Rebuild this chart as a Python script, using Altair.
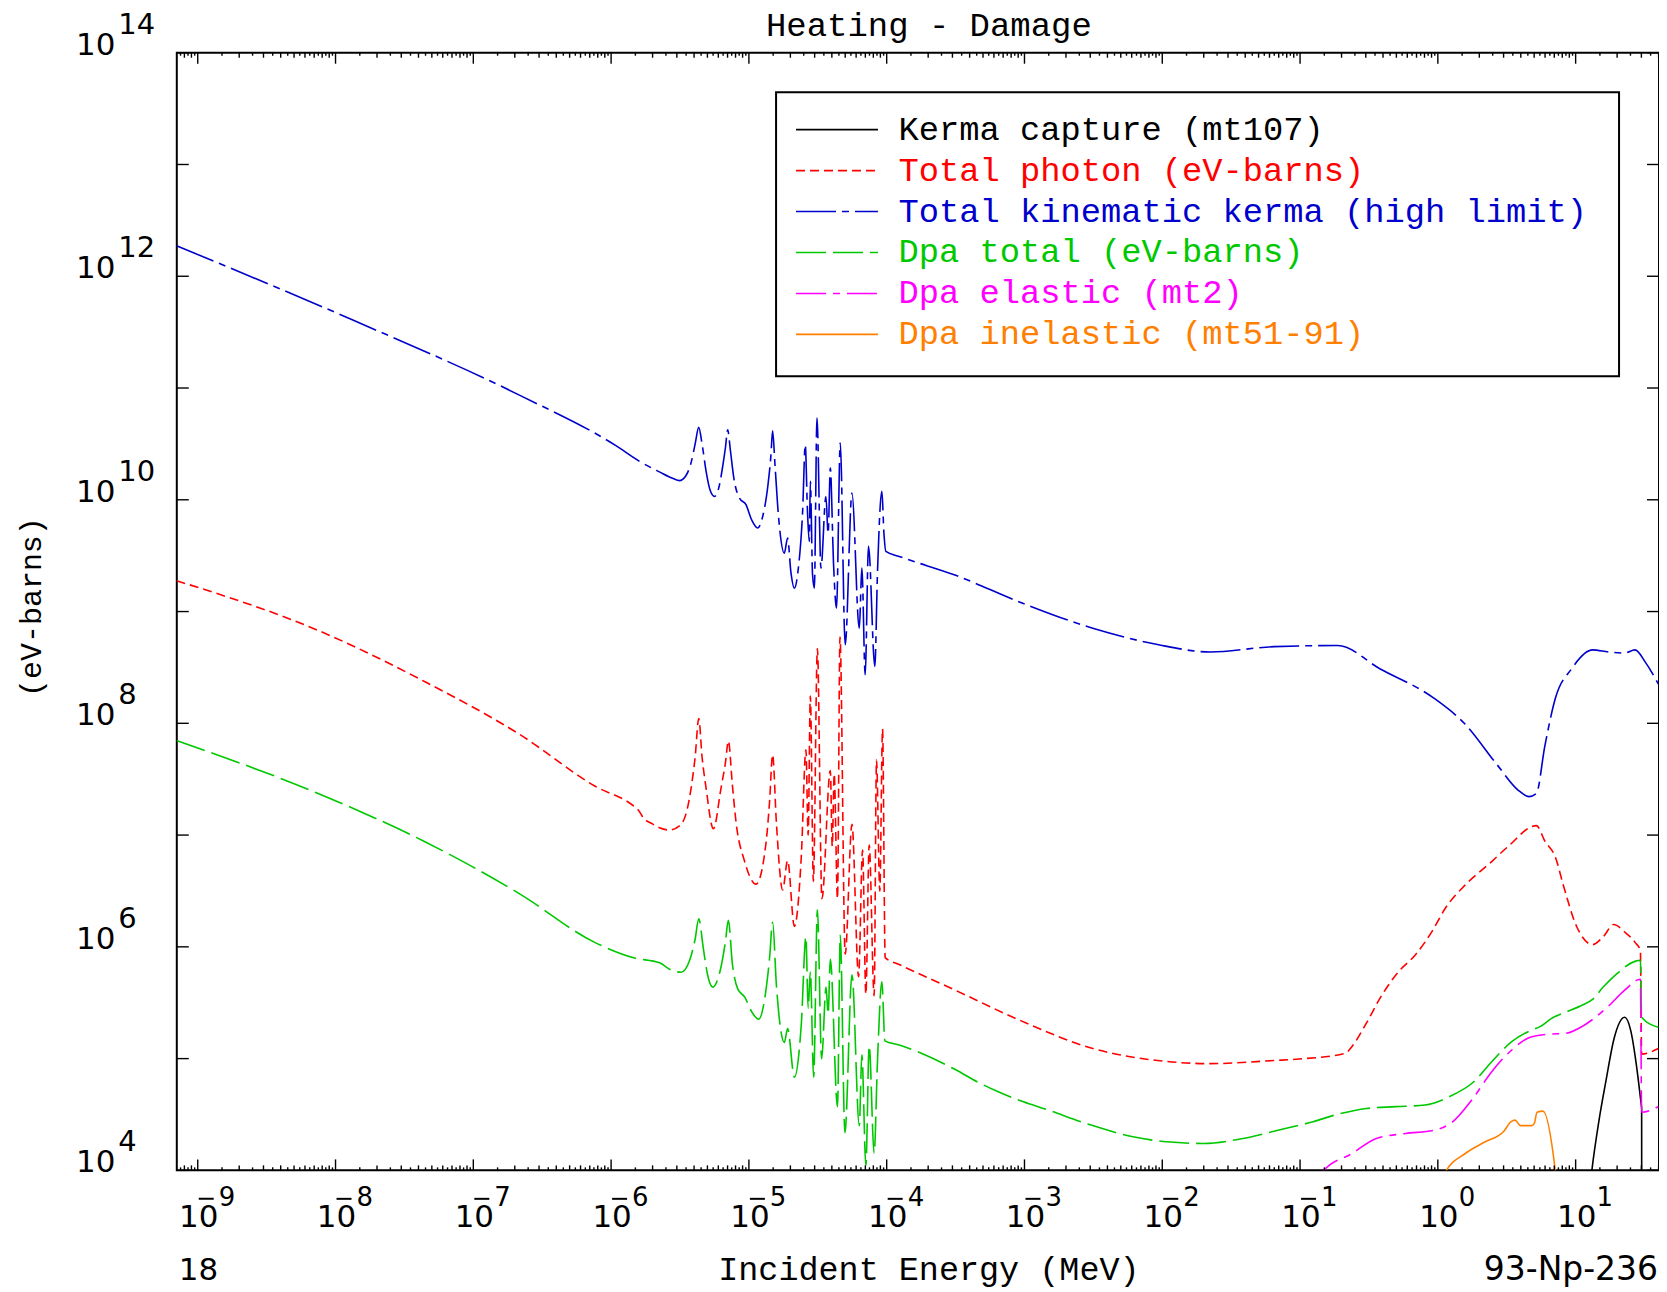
import altair as alt
import pandas as pd

# ---------------- data: (log10 Energy [MeV], log10 value [eV-barns]) ----------------
kerma_capture = [
    (1.10, 3.8), (1.116, 3.98), (1.17, 4.45), (1.22, 4.80), (1.279, 5.18), (1.356, 5.37),
    (1.40, 5.25), (1.44, 4.95), (1.47, 4.65), (1.479, 4.55), (1.4795, 3.8),
]

total_photon = [
    (-9.154, 9.276), (-8.122, 8.829), (-7.351, 8.372), (-6.658, 7.896), (-6.119, 7.439),
    (-5.826, 7.249), (-5.80, 7.22), (-5.77, 7.16), (-5.70, 7.10), (-5.649, 7.066),
    (-5.576, 7.045), (-5.504, 7.082), (-5.45, 7.22), (-5.419, 7.423), (-5.39, 7.70),
    (-5.364, 8.043), (-5.34, 7.70), (-5.311, 7.423), (-5.258, 7.057), (-5.202, 7.423),
    (-5.17, 7.65), (-5.149, 7.842), (-5.12, 7.45), (-5.093, 7.113), (-5.033, 6.772),
    (-4.948, 6.561), (-4.876, 6.927), (-4.85, 7.30), (-4.828, 7.718), (-4.80, 7.10),
    (-4.755, 6.508), (-4.719, 6.772), (-4.670, 6.183), (-4.62, 6.80), (-4.586, 7.764),
    (-4.57, 7.0), (-4.554, 8.245), (-4.532, 6.586), (-4.503, 8.670), (-4.470, 6.431),
    (-4.409, 7.578), (-4.395, 6.9), (-4.381, 7.547), (-4.357, 6.431), (-4.339, 8.772),
    (-4.301, 5.935), (-4.252, 7.097), (-4.204, 5.733), (-4.175, 6.865), (-4.151, 5.578),
    (-4.127, 6.911), (-4.091, 5.563), (-4.074, 7.671), (-4.05, 6.5), (-4.030, 7.950),
    (-4.011, 5.904), (-3.909, 5.842), (-3.499, 5.61), (-3.037, 5.345), (-2.498, 5.088),
    (-2.035, 4.983), (-1.650, 4.955), (-1.188, 4.983), (-1.010, 4.996), (-0.671, 5.047),
    (-0.624, 5.107), (-0.526, 5.301), (-0.406, 5.569), (-0.285, 5.778), (-0.164, 5.927),
    (-0.043, 6.136), (0.054, 6.345), (0.199, 6.554), (0.391, 6.763), (0.507, 6.895),
    (0.715, 7.085), (0.777, 6.945), (0.854, 6.80), (0.908, 6.563), (1.008, 6.18),
    (1.123, 6.02), (1.200, 6.09), (1.277, 6.20), (1.354, 6.135), (1.431, 6.04),
    (1.470, 5.965), (1.479, 5.04), (1.600, 5.09),
]

total_kinematic_kerma = [
    (-9.154, 12.273), (-7.891, 11.617), (-6.658, 10.932), (-5.965, 10.484), (-5.794, 10.344),
    (-5.65, 10.25), (-5.55, 10.19), (-5.504, 10.171), (-5.46, 10.21), (-5.42, 10.33),
    (-5.39, 10.50), (-5.364, 10.648), (-5.34, 10.50), (-5.31, 10.25), (-5.28, 10.08),
    (-5.25, 10.030), (-5.22, 10.10), (-5.19, 10.30), (-5.17, 10.47), (-5.154, 10.627),
    (-5.135, 10.45), (-5.11, 10.20), (-5.069, 10.015), (-5.021, 9.956), (-4.98, 9.82),
    (-4.936, 9.747), (-4.90, 9.85), (-4.86, 10.15), (-4.84, 10.40), (-4.828, 10.618),
    (-4.81, 10.30), (-4.785, 9.85), (-4.743, 9.523), (-4.719, 9.657), (-4.695, 9.35),
    (-4.670, 9.209), (-4.64, 9.40), (-4.61, 9.90), (-4.591, 10.493), (-4.575, 9.9),
    (-4.562, 9.628), (-4.554, 10.165), (-4.538, 9.329), (-4.525, 9.209), (-4.506, 10.731),
    (-4.477, 9.389), (-4.441, 10.030), (-4.425, 9.70), (-4.409, 10.284), (-4.386, 9.433),
    (-4.364, 9.030), (-4.337, 10.508), (-4.301, 8.703), (-4.252, 10.060), (-4.199, 8.851),
    (-4.180, 9.389), (-4.156, 8.434), (-4.132, 9.583), (-4.086, 8.509), (-4.067, 9.344),
    (-4.035, 10.075), (-4.020, 9.70), (-4.006, 9.538), (-3.909, 9.493), (-3.499, 9.324),
    (-3.037, 9.086), (-2.498, 8.848), (-2.035, 8.705), (-1.650, 8.638), (-1.188, 8.686),
    (-0.726, 8.696), (-0.418, 8.486), (-0.032, 8.228), (0.199, 7.991), (0.430, 7.629),
    (0.584, 7.401), (0.661, 7.344), (0.715, 7.372), (0.777, 7.800), (0.854, 8.228),
    (0.969, 8.485), (1.123, 8.657), (1.239, 8.638), (1.354, 8.629), (1.431, 8.657),
    (1.508, 8.543), (1.600, 8.352),
]

dpa_total = [
    (-9.154, 7.847), (-8.122, 7.37), (-7.351, 6.94), (-6.658, 6.47), (-6.119, 6.04),
    (-5.83, 5.90), (-5.649, 5.857), (-5.56, 5.79), (-5.492, 5.773), (-5.43, 5.88),
    (-5.39, 6.07), (-5.364, 6.251), (-5.33, 5.98), (-5.30, 5.75), (-5.263, 5.640),
    (-5.21, 5.78), (-5.17, 6.05), (-5.149, 6.238), (-5.12, 5.85), (-5.081, 5.624),
    (-5.03, 5.55), (-4.98, 5.42), (-4.929, 5.352), (-4.88, 5.58), (-4.85, 5.90),
    (-4.828, 6.220), (-4.80, 5.65), (-4.743, 5.144), (-4.719, 5.268), (-4.670, 4.834),
    (-4.62, 5.30), (-4.586, 6.090), (-4.57, 5.45), (-4.554, 5.780), (-4.530, 4.834),
    (-4.503, 6.331), (-4.472, 4.998), (-4.440, 5.640), (-4.425, 5.40), (-4.409, 5.888),
    (-4.357, 4.570), (-4.337, 6.105), (-4.303, 4.338), (-4.252, 5.749), (-4.199, 4.400),
    (-4.180, 5.035), (-4.151, 4.043), (-4.127, 5.113), (-4.091, 4.152), (-4.067, 4.973),
    (-4.035, 5.687), (-4.013, 5.159), (-3.909, 5.122), (-3.499, 4.90), (-3.344, 4.793),
    (-3.203, 4.710), (-3.008, 4.614), (-2.849, 4.549), (-2.531, 4.411), (-2.213, 4.301),
    (-1.967, 4.256), (-1.701, 4.241), (-1.436, 4.280), (-1.153, 4.361), (-0.906, 4.435),
    (-0.729, 4.501), (-0.517, 4.554), (-0.305, 4.570), (-0.092, 4.585), (0.085, 4.660),
    (0.261, 4.793), (0.391, 4.972), (0.536, 5.151), (0.681, 5.256), (0.742, 5.286),
    (0.826, 5.360), (0.925, 5.414), (1.05, 5.48), (1.123, 5.53), (1.200, 5.64),
    (1.300, 5.76), (1.430, 5.87), (1.470, 5.88), (1.479, 5.37), (1.600, 5.28),
]

dpa_elastic = [
    (-0.87, 3.9), (-0.835, 3.99), (-0.623, 4.151), (-0.446, 4.286), (-0.234, 4.330),
    (-0.022, 4.361), (0.114, 4.441), (0.246, 4.629), (0.391, 4.883), (0.536, 5.077),
    (0.681, 5.196), (0.826, 5.220), (0.925, 5.226), (1.05, 5.29), (1.123, 5.35),
    (1.239, 5.47), (1.354, 5.61), (1.470, 5.71), (1.479, 4.52), (1.600, 4.57),
]

dpa_inelastic = [
    (0.0, 3.8), (0.053, 3.98), (0.199, 4.151), (0.344, 4.256), (0.476, 4.346),
    (0.532, 4.436), (0.56, 4.45), (0.60, 4.40), (0.68, 4.40), (0.70, 4.42),
    (0.72, 4.52), (0.763, 4.53), (0.854, 3.98), (0.87, 3.8),
]

series_names = [
    "Kerma capture (mt107)",
    "Total photon (eV-barns)",
    "Total kinematic kerma (high limit)",
    "Dpa total (eV-barns)",
    "Dpa elastic (mt2)",
    "Dpa inelastic (mt51-91)",
]
series_data = [kerma_capture, total_photon, total_kinematic_kerma, dpa_total, dpa_elastic, dpa_inelastic]
series_colors = ["#000000", "#ff0000", "#0000cc", "#00c800", "#ff00ff", "#ff8000"]
series_dashes = [None, [9, 5], [40, 6, 7, 6], [30, 7], [30, 7, 7, 7], None]

x_decades = list(range(-9, 2))
y_decades = list(range(4, 15))
y_label_decades = [4, 6, 8, 10, 12, 14]

title_text = "Heating - Damage"
x_title = "Incident Energy (MeV)"
y_title = "(eV-barns)"
left_note = "18"
right_note = "93-Np-236"

# ---------------- layout ----------------
W, H = 1484, 1119
X_LO, X_HI = 10 ** -9.152, 10 ** 1.605
xscale = alt.Scale(type="log", domain=[X_LO, X_HI], nice=False)
yscale = alt.Scale(type="log", domain=[1e4, 1e14], nice=False)


def X(f):
    return alt.X(f, type="quantitative", scale=xscale, axis=None)


def Y(f):
    return alt.Y(f, type="quantitative", scale=yscale, axis=None)


NUMFONT = "DejaVu Sans"
MONO = "Liberation Mono"
dummy = pd.DataFrame({"a": [0]})

layers = []

# data curves
for name, pts, color, dash in zip(series_names, series_data, series_colors, series_dashes):
    df = pd.DataFrame({
        "E": [10 ** p[0] for p in pts],
        "V": [10 ** p[1] for p in pts],
        "o": list(range(len(pts))),
    })
    kw = dict(color=color, strokeWidth=1.6, clip=True, interpolate="monotone")
    if dash:
        kw["strokeDash"] = dash
    layers.append(alt.Chart(df).mark_line(**kw).encode(x=X("E"), y=Y("V"), order="o:Q"))

# tick values
major_x = [10.0 ** k for k in x_decades]
minor_int = [m * 10.0 ** k for k in range(-10, 2) for m in range(2, 10)]
minor_int = [v for v in minor_int if X_LO <= v <= X_HI]
minor_half = [(m + 0.5) * 10.0 ** k for k in range(-10, 2) for m in range(1, 10)]
minor_half = [v for v in minor_half if X_LO <= v <= X_HI]

for vals, L in [(major_x, 11), (minor_int, 5), (minor_half, 3)]:
    tdf = pd.DataFrame({"t": vals})
    layers.append(alt.Chart(tdf).mark_rule(color="black", strokeWidth=1.4).encode(
        x=X("t"), y=alt.value(H), y2=alt.value(H - L)))
    layers.append(alt.Chart(tdf).mark_rule(color="black", strokeWidth=1.4).encode(
        x=X("t"), y=alt.value(0), y2=alt.value(L)))

ydf = pd.DataFrame({"t": [10.0 ** k for k in y_decades]})
layers.append(alt.Chart(ydf).mark_rule(color="black", strokeWidth=1.4).encode(
    y=Y("t"), x=alt.value(0), x2=alt.value(12)))
layers.append(alt.Chart(ydf).mark_rule(color="black", strokeWidth=1.4).encode(
    y=Y("t"), x=alt.value(W), x2=alt.value(W - 12)))

# x tick labels
xl = pd.DataFrame({
    "t": [10.0 ** k for k in x_decades],
    "base": ["10"] * len(x_decades),
    "exp": [str(abs(k)) for k in x_decades],
    "neg": [k < 0 for k in x_decades],
})
layers.append(alt.Chart(xl).mark_text(align="center", baseline="alphabetic", font=NUMFONT,
                                      fontSize=31, dx=1, color="black").encode(
    x=X("t"), y=alt.value(H + 57), text="base:N"))
layers.append(alt.Chart(xl).mark_text(align="left", baseline="alphabetic", font=NUMFONT,
                                      fontSize=26, dx=21, color="black").encode(
    x=X("t"), y=alt.value(H + 36), text="exp:N"))
# minus sign of the negative exponents, drawn as a short bar above the "0"
layers.append(alt.Chart(xl).transform_filter("datum.neg").mark_tick(
    orient="horizontal", size=15, thickness=2, color="black", xOffset=8.5, opacity=1).encode(
    x=X("t"), y=alt.value(H + 28.5)))

# y tick labels
yl = pd.DataFrame({
    "t": [10.0 ** k for k in y_label_decades],
    "base": ["10"] * len(y_label_decades),
    "exp": [str(k) for k in y_label_decades],
})
layers.append(alt.Chart(yl).mark_text(align="right", baseline="alphabetic", font=NUMFONT,
                                      fontSize=31, dy=2, color="black").encode(
    y=Y("t"), x=alt.value(-61.5), text="base:N"))
layers.append(alt.Chart(yl).mark_text(align="left", baseline="alphabetic", font=NUMFONT,
                                      fontSize=29, dy=-19, color="black").encode(
    y=Y("t"), x=alt.value(-58.5), text="exp:N"))

# legend box
layers.append(alt.Chart(dummy).mark_rect(fill="white", stroke="black", strokeWidth=2).encode(
    x=alt.value(600), x2=alt.value(1444), y=alt.value(39.5), y2=alt.value(324)))
for i, (name, color, dash) in enumerate(zip(series_names, series_colors, series_dashes)):
    yy = 77 + 41 * i
    kw = dict(color=color, strokeWidth=1.6)
    if dash:
        kw["strokeDash"] = dash
    layers.append(alt.Chart(dummy).mark_rule(**kw).encode(
        x=alt.value(620), x2=alt.value(702), y=alt.value(yy)))
    layers.append(alt.Chart(dummy).mark_text(align="left", baseline="alphabetic", font=MONO,
                                             fontSize=33.8, color=color, text=name).encode(
        x=alt.value(722.5), y=alt.value(yy + 10)))

# titles and notes
layers.append(alt.Chart(dummy).mark_text(align="center", baseline="alphabetic", font=MONO,
                                         fontSize=34, color="black", text=title_text).encode(
    x=alt.value(753), y=alt.value(-17)))
layers.append(alt.Chart(dummy).mark_text(align="center", baseline="alphabetic", font=MONO,
                                         fontSize=33.5, color="black", text=x_title).encode(
    x=alt.value(753), y=alt.value(H + 110)))
layers.append(alt.Chart(dummy).mark_text(align="left", baseline="alphabetic", font=NUMFONT,
                                         fontSize=31, color="black", text=left_note).encode(
    x=alt.value(2), y=alt.value(H + 110)))
layers.append(alt.Chart(dummy).mark_text(align="right", baseline="alphabetic", font=NUMFONT,
                                         fontSize=33, color="black", text=right_note).encode(
    x=alt.value(W - 1), y=alt.value(H + 110)))
layers.append(alt.Chart(dummy).mark_text(align="center", baseline="middle", font=MONO,
                                         fontSize=30, angle=270, color="black", text=y_title).encode(
    x=alt.value(-145), y=alt.value(555)))

chart = alt.layer(*layers).properties(
    width=W,
    height=H,
    autosize=alt.AutoSizeParams(type="none"),
    padding={"left": 169, "top": 44, "right": 0, "bottom": 122},
).configure_view(stroke="black", strokeWidth=2)

chart.save("out.html", embed_options={"renderer": "svg", "actions": False})
